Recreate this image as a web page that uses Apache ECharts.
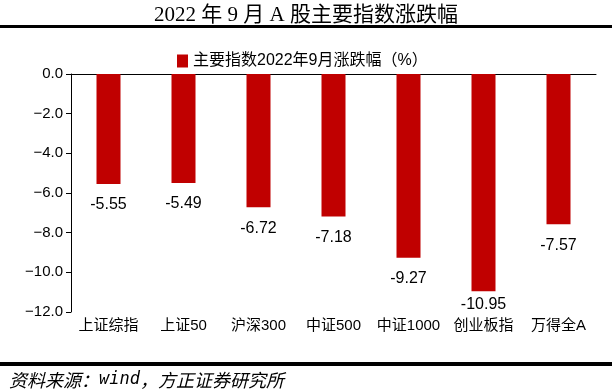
<!DOCTYPE html>
<html><head><meta charset="utf-8">
<script src="https://cdn.jsdelivr.net/npm/echarts@6/dist/echarts.min.js"></script>
<style>html,body{margin:0;padding:0;background:#fff}#c{width:612px;height:391px}</style>
</head><body><div id="c"></div>
<script>
const categories = ['上证综指','上证50','沪深300','中证500','中证1000','创业板指','万得全A'];
const values = [-5.55,-5.49,-6.72,-7.18,-9.27,-10.95,-7.57];
const yTicks = [0,-2,-4,-6,-8,-10,-12];
const seriesName = '主要指数2022年9月涨跌幅（%）';

const chart = echarts.init(document.getElementById('c'));
const barData = values.map(v => v < -10.5 ? {value:v, label:{distance:5}} : v);
chart.setOption({
  animation:false,
  backgroundColor:'#fff',
  title:{text:'2022 年 9 月 A 股主要指数涨跌幅', left:'center', top:0,
    textStyle:{fontFamily:'"Liberation Serif","Noto Sans CJK SC",serif', fontSize:21, fontWeight:'normal', color:'#000'}},
  legend:{top:48, left:172, itemWidth:11, itemHeight:13, icon:'rect', itemGap:8,
    textStyle:{fontFamily:'"Liberation Sans","Noto Sans CJK SC"', fontSize:16, color:'#000'}, data:[seriesName]},
  graphic:[
    {type:'rect', shape:{x:0,y:25,width:612,height:3}, style:{fill:'#000'}},
    {type:'rect', shape:{x:0,y:362,width:612,height:4}, style:{fill:'#000'}},
    {type:'text', left:9, top:371, style:{
      text:'{c|资料来源：}{m|wind}{c|，方正证券研究所}',
      rich:{c:{fontFamily:'"Noto Sans CJK SC"', fontStyle:'italic', fontSize:18, fill:'#000'},
            m:{fontFamily:'"DejaVu Sans Mono"', fontStyle:'italic', fontSize:17, fill:'#000'}}}}
  ],
  grid:{left:71, right:16, top:74, bottom:79, containLabel:false},
  xAxis:[
    {type:'category', data:categories, position:'bottom',
      axisLine:{show:false}, axisTick:{show:false},
      axisLabel:{fontFamily:'"Liberation Sans","Noto Sans CJK SC"', fontSize:15, color:'#000', margin:6, interval:0}},
    {type:'category', data:categories, position:'top',
      axisLine:{show:true, onZero:false, lineStyle:{color:'#000', width:1}}, axisTick:{show:false}, axisLabel:{show:false}}
  ],
  yAxis:{type:'value', min:-12, max:0, interval:2,
    axisLine:{show:true, lineStyle:{color:'#000'}},
    axisTick:{show:true, inside:false, length:5, lineStyle:{color:'#000'}},
    splitLine:{show:false},
    axisLabel:{color:'#000', fontFamily:'"Liberation Sans",Arial', fontSize:15, margin:8,
      formatter:v=>v.toFixed(1).replace('-','−')}},
  series:[{name:seriesName, type:'bar', data:barData, barWidth:24, xAxisIndex:0,
    itemStyle:{color:'#C00000'},
    label:{show:true, position:'bottom', distance:13, color:'#000', fontFamily:'"Liberation Sans",Arial', fontSize:16,
      formatter:p=>p.value.toFixed(2)}}]
});
</script></body></html>
